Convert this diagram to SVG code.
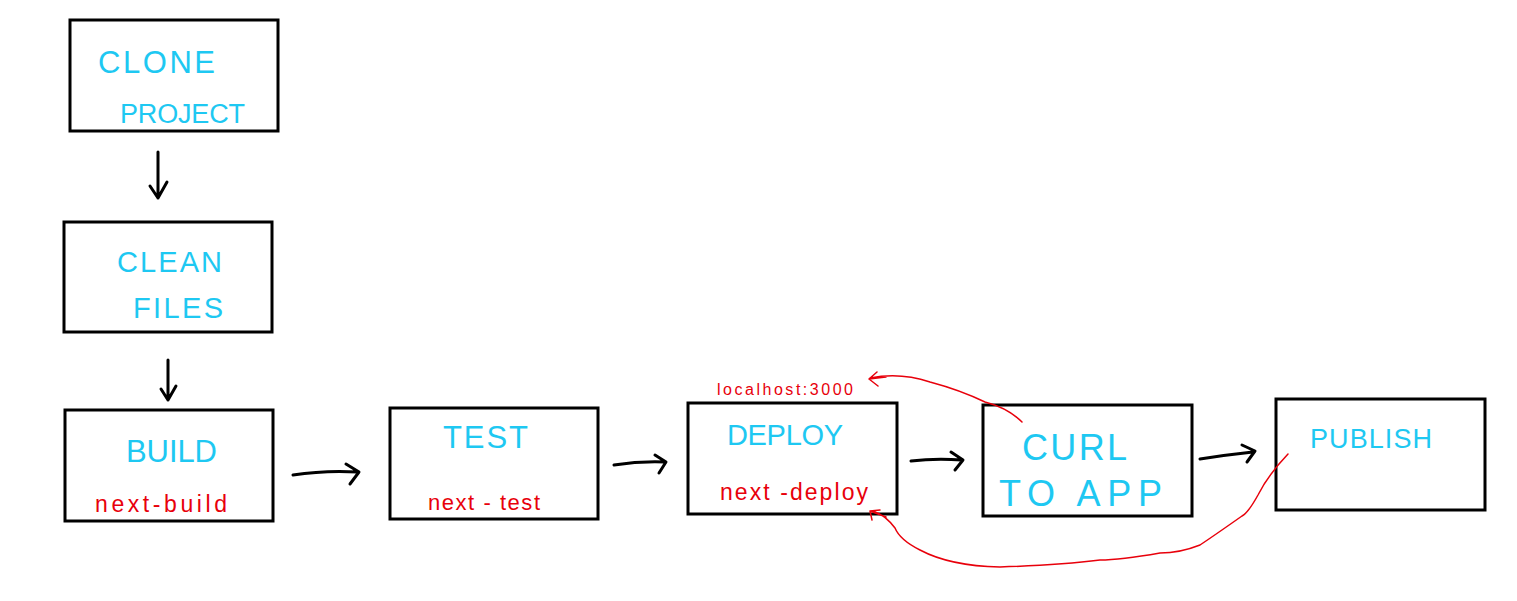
<svg xmlns="http://www.w3.org/2000/svg" width="1517" height="601" viewBox="0 0 1517 601">
<style>
.box{fill:#fff;stroke:#000;stroke-width:3}
.t{font-family:"Liberation Sans",Arial,sans-serif;fill:#1ec8f2;font-weight:normal}
.r{font-family:"Liberation Sans",Arial,sans-serif;fill:#e8000b}
.a{fill:none;stroke:#000;stroke-width:3;stroke-linecap:round;stroke-linejoin:round}
.rc{fill:none;stroke:#e8000b;stroke-width:1.5;stroke-linecap:round;stroke-linejoin:round}
</style>
<rect width="1517" height="601" fill="#fff"/>
<g id="clone">
<rect class="box" x="70" y="20" width="208" height="111"/>
<text class="t" x="98" y="73" font-size="31" textLength="117">CLONE</text>
<text class="t" x="120" y="123" font-size="27" textLength="125">PROJECT</text>
</g>
<g id="clean">
<rect class="box" x="64" y="222" width="208" height="110"/>
<text class="t" x="117" y="272" font-size="29" textLength="105">CLEAN</text>
<text class="t" x="133" y="318" font-size="29" textLength="90">FILES</text>
</g>
<g id="build">
<rect class="box" x="65" y="410" width="208" height="111"/>
<text class="t" x="126" y="462" font-size="31" textLength="91">BUILD</text>
<text class="r" x="95" y="512" font-size="23" textLength="132">next-build</text>
</g>
<g id="test">
<rect class="box" x="390" y="408" width="208" height="111"/>
<text class="t" x="443" y="448" font-size="31" textLength="85">TEST</text>
<text class="r" x="428" y="510" font-size="22" textLength="112">next - test</text>
</g>
<g id="deploy">
<rect class="box" x="688" y="403" width="209" height="111"/>
<text class="t" x="727" y="445" font-size="29" textLength="116">DEPLOY</text>
<text class="r" x="720" y="500" font-size="23" textLength="148">next -deploy</text>
<text class="r" x="717" y="395" font-size="16" textLength="136">localhost:3000</text>
</g>
<g id="curl">
<rect class="box" x="983" y="405" width="209" height="111"/>
<text class="t" x="1022" y="460" font-size="36" textLength="105">CURL</text>
<text class="t" x="999" y="506" font-size="36" textLength="163">TO  APP</text>
</g>
<g id="publish">
<rect class="box" x="1276" y="399" width="209" height="111"/>
<text class="t" x="1310" y="448" font-size="27" textLength="122">PUBLISH</text>
</g>
<g id="connectors">
<path class="a" d="M158 152 L158 198 M150 186 L158 198 L167 182"/>
<path class="a" d="M168 360 L168 400 M161 389 L168 400 L176 386"/>
<path class="a" d="M293 475 Q325 470 358 472 M346 464 L359 472 L350 484"/>
<path class="a" d="M614 465 Q640 461 665 462 M655 455 L666 462 L659 473"/>
<path class="a" d="M911 461 Q935 458 962 460 M951 452 L963 460 L955 470"/>
<path class="a" d="M1200 459 Q1225 455 1253 452 M1242 445 L1255 451 L1247 462"/>
<path class="rc" d="M1022 422 Q1008 408 985 402 Q960 390 930 382 Q900 372 870 378 M877 372 L869 379 L878 386 M869 379 L886 377"/>
<path class="rc" d="M1288 454 Q1268 475 1258 495 Q1248 513 1242 516 Q1215 535 1200 545 Q1180 553 1160 553 Q1120 560 1100 560 Q1060 565 1000 567 Q950 566 920 550 Q900 540 895 528 Q885 515 875 512 M872 520 L870 511 L880 510 M870 511 L886 517"/>
</g>
</svg>
